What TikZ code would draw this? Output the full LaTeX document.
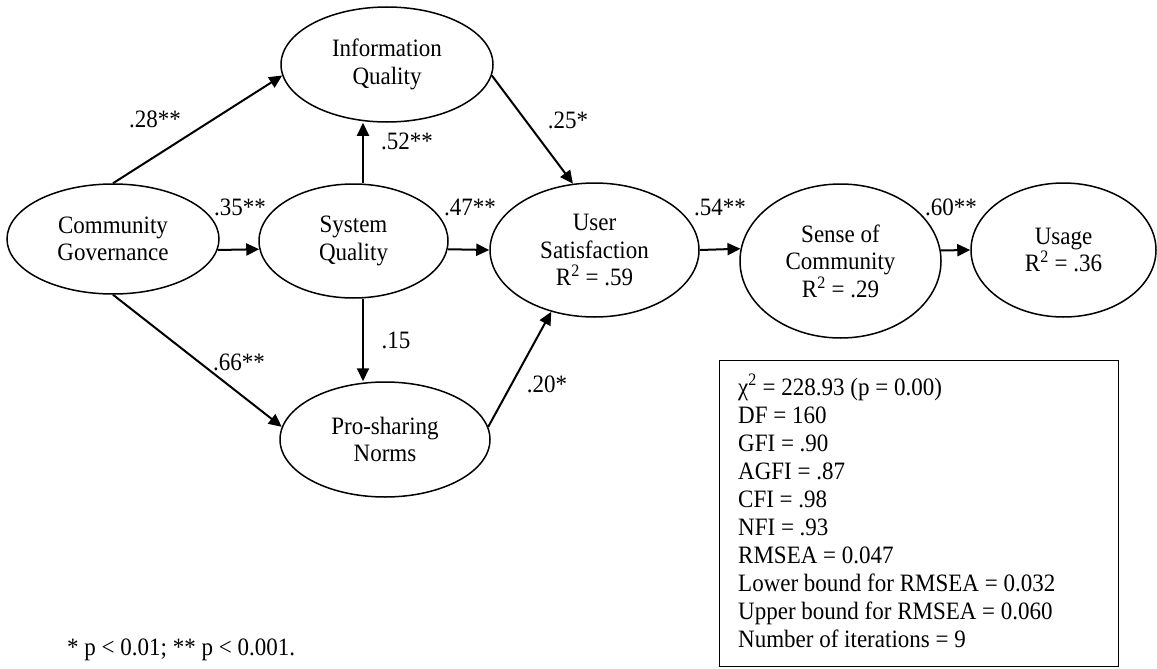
\documentclass[tikz,border=0pt]{standalone}
\usepackage{fontspec}
\setmainfont{Liberation Serif}[FakeStretch=0.92]
\usetikzlibrary{shapes.geometric,arrows.meta}
\begin{document}
\begin{tikzpicture}[x=1pt,y=-1pt,
  lat/.style={ellipse, draw, line width=1.5pt, inner sep=0pt, align=center,
    font=\fontsize{25}{27.5}\selectfont},
  arr/.style={line width=2pt, -{Triangle[length=13pt,width=12pt]}},
  lbl/.style={font=\fontsize{25}{27.5}\selectfont, inner sep=0pt},
  fitline/.style={font=\fontsize{25}{28}\selectfont, inner sep=0pt, anchor=base west}]
\useasboundingbox (0,0) rectangle (1157,669);
% latent variables
\node[lat, minimum width=212pt, minimum height=115pt] (iq) at (387,64.5) {Information\\Quality};
\node[lat, minimum width=212pt, minimum height=110pt] (cg) at (113,239) {Community\\Governance};
\node[lat, minimum width=189pt, minimum height=114pt] (sq) at (353.5,241) {System\\Quality};
\node[lat, minimum width=209pt, minimum height=134pt] (us) at (594.5,250) {User\\Satisfaction\\R\textsuperscript{2} = .59};
\node[lat, minimum width=201pt, minimum height=154pt] (soc) at (840.5,261) {Sense of\\Community\\R\textsuperscript{2} = .29};
\node[lat, minimum width=185pt, minimum height=134pt] (use) at (1063.5,250) {Usage\\R\textsuperscript{2} = .36};
\node[lat, minimum width=210pt, minimum height=115pt] (pn) at (385,439.5) {Pro-sharing\\Norms};
% paths
\draw[arr] (cg.north) -- (iq.186);
\draw[arr] ([xshift=9.5pt]sq.north) -- ([xshift=9.5pt]sq.north |- iq.south);
\draw[arr] (iq.-6) -- (us.108);
\draw[arr] (cg.-6) -- (sq.185.5);
\draw[arr] (sq.-5.5) -- (us.west);
\draw[arr] (us.east) -- (soc.173.7);
\draw[arr] (soc.6.3) -- (use.west);
\draw[arr] ([xshift=9.5pt]sq.south) -- ([xshift=9.5pt]sq.south |- pn.north);
\draw[arr] (cg.south) -- (pn.173);
\draw[arr] (pn.7) -- (us.235);
% path labels
\node[lbl] (l28) at (155,119) {.28**};
\node[lbl] (l52) at (407,141) {.52**};
\node[lbl] (l25) at (568,120) {.25*};
\node[lbl] (l35) at (240,207) {.35**};
\node[lbl] (l47) at (470,207) {.47**};
\node[lbl] (l54) at (720,207) {.54**};
\node[lbl] (l60) at (951,207) {.60**};
\node[lbl] (l15) at (396,340) {.15};
\node[lbl] (l66) at (239,362) {.66**};
\node[lbl] (l20) at (547,384) {.20*};
% fit box
\node[draw, line width=1.3pt, minimum width=399pt, minimum height=306pt, anchor=north west, inner sep=0pt] (fitbox) at (719,360) {};
\node[fitline] (f1) at (738,395) {χ\textsuperscript{2} = 228.93 (p = 0.00)};
\node[fitline] (f2) at (738,423) {DF = 160};
\node[fitline] (f3) at (738,451) {GFI = .90};
\node[fitline] (f4) at (738,479) {AGFI = .87};
\node[fitline] (f5) at (738,507) {CFI = .98};
\node[fitline] (f6) at (738,535) {NFI = .93};
\node[fitline] (f7) at (738,563) {RMSEA = 0.047};
\node[fitline] (f8) at (738,591) {Lower bound for RMSEA = 0.032};
\node[fitline] (f9) at (738,619) {Upper bound for RMSEA = 0.060};
\node[fitline] (f10) at (738,647) {Number of iterations = 9};
% footnote
\node[lbl, anchor=base west] (note) at (67,655) {* p < 0.01; ** p < 0.001.};
\end{tikzpicture}
\end{document}
